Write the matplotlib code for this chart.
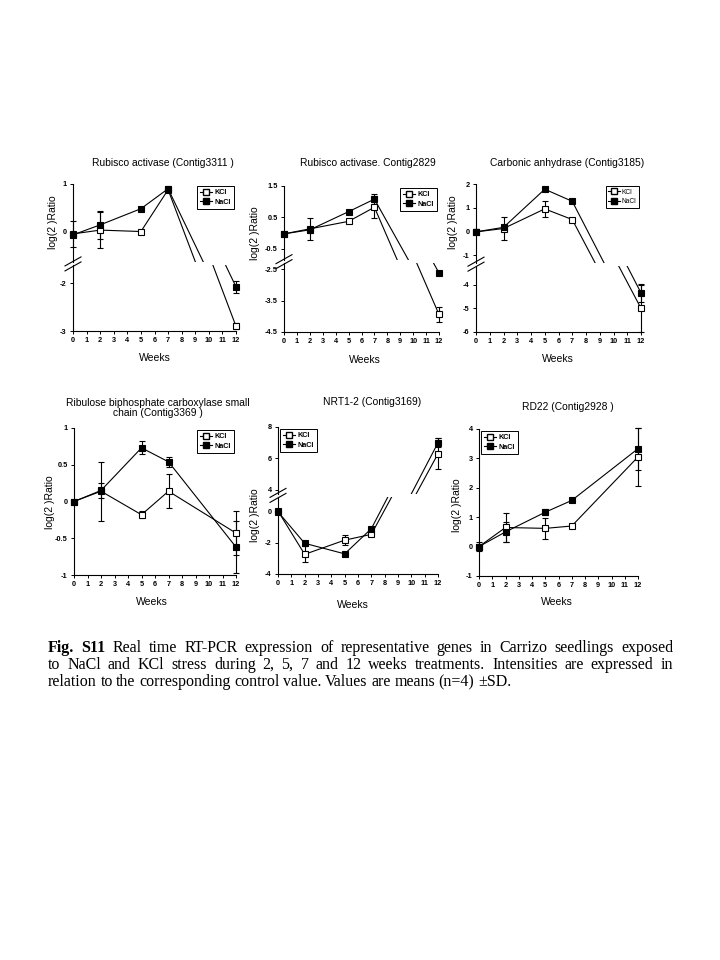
import matplotlib
matplotlib.use('Agg')
import matplotlib.pyplot as plt
from matplotlib.lines import Line2D
from matplotlib.ticker import FuncFormatter

plt.rcParams['font.family'] = ['Liberation Sans', 'DejaVu Sans']

W, H = 720, 960
weeks = [0, 2, 5, 7, 12]
xticks = list(range(13))

# Rubisco activase (Contig3311)
rca1_kcl = [-0.05, 0.03, 0.0, 0.88, -2.9]
rca1_kcl_sd = [0.28, 0.38, 0.02, 0.05, 0.06]
rca1_nacl = [-0.07, 0.14, 0.48, 0.9, -2.07]
rca1_nacl_sd = [0.05, 0.3, 0.02, 0.06, 0.12]

# Rubisco activase, Contig2829
rca2_kcl = [-0.03, 0.13, 0.37, 0.82, -3.94]
rca2_kcl_sd = [0.05, 0.35, 0.03, 0.35, 0.25]
rca2_nacl = [-0.03, 0.1, 0.68, 1.08, -2.61]
rca2_nacl_sd = [0.05, 0.1, 0.03, 0.15, 0.05]

# Carbonic anhydrase (Contig3185)
ca_kcl = [-0.02, 0.12, 0.95, 0.5, -5.0]
ca_kcl_sd = [0.1, 0.48, 0.35, 0.04, 1.0]
ca_nacl = [-0.02, 0.17, 1.78, 1.27, -4.35]
ca_nacl_sd = [0.1, 0.1, 0.04, 0.04, 0.38]

# Ribulose biphosphate carboxylase small chain (Contig3369)
rbcs_kcl = [0.0, 0.14, -0.18, 0.14, -0.43]
rbcs_kcl_sd = [0.01, 0.4, 0.05, 0.23, 0.3]
rbcs_nacl = [0.0, 0.15, 0.73, 0.54, -0.62]
rbcs_nacl_sd = [0.01, 0.1, 0.09, 0.07, 0.35]

# NRT1-2 (Contig3169)
nrt_kcl = [0.0, -2.75, -1.85, -1.48, 6.3]
nrt_kcl_sd = [0.1, 0.5, 0.3, 0.1, 1.0]
nrt_nacl = [-0.05, -2.05, -2.72, -1.12, 7.0]
nrt_nacl_sd = [0.1, 0.1, 0.1, 0.1, 0.3]

# RD22 (Contig2928)
rd22_kcl = [0.0, 0.65, 0.62, 0.7, 3.05]
rd22_kcl_sd = [0.15, 0.5, 0.35, 0.05, 1.0]
rd22_nacl = [0.0, 0.5, 1.17, 1.57, 3.33]
rd22_nacl_sd = [0.05, 0.35, 0.1, 0.05, 0.72]

panels = [
    dict(title='Rubisco activase (Contig3311 )', box=(73, 184, 236, 331),
         upper=(-0.65, 1), lower=(-3, -1.62), uticks=[0, 1], lticks=[-3, -2],
         kcl=rca1_kcl, kcl_sd=rca1_kcl_sd, nacl=rca1_nacl, nacl_sd=rca1_nacl_sd,
         title_xy=(163, 163), ylab_xy=(53, 222), weeks_xy=(155, 358), leg='upper right'),
    dict(title='Rubisco activase. Contig2829', box=(284, 186, 439, 332),
         upper=(-0.87, 1.5), lower=(-4.5, -2.3), uticks=[-0.5, 0.5, 1.5], lticks=[-4.5, -3.5, -2.5],
         kcl=rca2_kcl, kcl_sd=rca2_kcl_sd, nacl=rca2_nacl, nacl_sd=rca2_nacl_sd,
         title_xy=(368, 163), ylab_xy=(255, 233), weeks_xy=(365, 360), leg='upper right'),
    dict(title='Carbonic anhydrase (Contig3185)', box=(476, 184, 641, 332),
         upper=(-1.32, 2), lower=(-6, -3.2), uticks=[-1, 0, 1, 2], lticks=[-6, -5, -4],
         kcl=ca_kcl, kcl_sd=ca_kcl_sd, nacl=ca_nacl, nacl_sd=ca_nacl_sd,
         title_xy=(567, 163), ylab_xy=(453, 222), weeks_xy=(558, 359), leg='upper right'),
    dict(title='Ribulose biphosphate carboxylase small\nchain (Contig3369 )', box=(74, 428, 236, 575),
         ylim=(-1, 1), yticks=[-1, -0.5, 0, 0.5, 1],
         kcl=rbcs_kcl, kcl_sd=rbcs_kcl_sd, nacl=rbcs_nacl, nacl_sd=rbcs_nacl_sd,
         title_xy=(158, 408), ylab_xy=(50, 502), weeks_xy=(152, 602), leg='upper right'),
    dict(title='NRT1-2 (Contig3169)', box=(278, 427, 438, 574),
         upper=(3.75, 8), lower=(-4, 0.9), uticks=[4, 6, 8], lticks=[-4, -2, 0],
         kcl=nrt_kcl, kcl_sd=nrt_kcl_sd, nacl=nrt_nacl, nacl_sd=nrt_nacl_sd,
         title_xy=(372, 402), ylab_xy=(255, 515), weeks_xy=(353, 605), leg='upper left'),
    dict(title='RD22 (Contig2928 )', box=(479, 429, 638, 576),
         ylim=(-1, 4), yticks=[-1, 0, 1, 2, 3, 4],
         kcl=rd22_kcl, kcl_sd=rd22_kcl_sd, nacl=rd22_nacl, nacl_sd=rd22_nacl_sd,
         title_xy=(568, 407), ylab_xy=(457, 505), weeks_xy=(557, 602), leg='upper left'),
]

fig = plt.figure(figsize=(W / 100, H / 100), dpi=100)


def rect(l, t, r, b):
    return [l / W, 1 - b / H, (r - l) / W, (b - t) / H]


def style_axes(ax, show_x):
    for s in ['top', 'right']:
        ax.spines[s].set_visible(False)
    ax.spines['left'].set_linewidth(0.8)
    ax.spines['bottom'].set_linewidth(0.8)
    ax.set_xlim(0, 12)
    ax.yaxis.set_major_formatter(FuncFormatter(lambda v, _: f'{v:g}'))
    ax.tick_params(axis='both', length=2.5, width=0.7, labelsize=5.3, pad=2)
    for lab in ax.get_yticklabels():
        lab.set_fontweight('bold')
    if show_x:
        ax.set_xticks(xticks)
        for lab in ax.get_xticklabels():
            lab.set_fontweight('bold')
    else:
        ax.spines['bottom'].set_visible(False)
        ax.set_xticks([])


def draw_series(ax, y, sd, filled, lo, hi):
    ax.plot(weeks, y, color='black', lw=0.8, zorder=2)
    for xi, yi, ei in zip(weeks, y, sd):
        if lo <= yi <= hi:
            eb = ax.errorbar([xi], [yi], yerr=[ei], fmt='s', ms=4.2,
                             mfc='black' if filled else 'white', mec='black', mew=0.8,
                             ecolor='black', elinewidth=0.8, capsize=2, capthick=0.8, zorder=3)
            for art in eb.get_children():
                art.set_clip_on(False)


def add_legend(ax, loc, small=False):
    handles = [Line2D([], [], color='black', lw=0.8, marker='s', ms=3.8, mfc='white', mec='black'),
               Line2D([], [], color='black', lw=0.8, marker='s', ms=3.8, mfc='black', mec='black')]
    leg = ax.legend(handles, ['KCl', 'NaCl'], loc=loc, fancybox=False, framealpha=1,
                    edgecolor='black', handlelength=1.7, handletextpad=0.3, borderpad=0.4,
                    labelspacing=0.35, borderaxespad=0.3,
                    prop=dict(size=4.8 if small else 5.2, weight='normal' if small else 'bold'))
    leg.get_frame().set_linewidth(0.7)


for i, p in enumerate(panels):
    l, t, r, b = p['box']
    if 'ylim' in p:
        ax = fig.add_axes(rect(l, t, r, b))
        ax.set_ylim(*p['ylim'])
        ax.set_yticks(p['yticks'])
        style_axes(ax, True)
        draw_series(ax, p['kcl'], p['kcl_sd'], False, *p['ylim'])
        draw_series(ax, p['nacl'], p['nacl_sd'], True, *p['ylim'])
        add_legend(ax, p['leg'])
    else:
        gap = 3
        u0, u1 = p['upper']
        l0, l1 = p['lower']
        scale = (b - t - gap) / ((u1 - u0) + (l1 - l0))
        ub = t + (u1 - u0) * scale
        axu = fig.add_axes(rect(l, t, r, ub))
        axl = fig.add_axes(rect(l, ub + gap, r, b))
        axu.set_ylim(u0, u1)
        axl.set_ylim(l0, l1)
        axu.set_yticks(p['uticks'])
        axl.set_yticks(p['lticks'])
        style_axes(axu, False)
        style_axes(axl, True)
        for a, (lo, hi) in [(axu, (u0, u1)), (axl, (l0, l1))]:
            draw_series(a, p['kcl'], p['kcl_sd'], False, lo, hi)
            draw_series(a, p['nacl'], p['nacl_sd'], True, lo, hi)
        add_legend(axu, p['leg'], small=(i == 2))
        # break marks on the y axis
        for yb in (ub - 1, ub + gap + 1):
            fig.add_artist(Line2D([(l - 8) / W, (l + 8) / W],
                                  [1 - (yb + 4.5) / H, 1 - (yb - 4.5) / H],
                                  color='black', lw=0.8))
    tx, ty = p['title_xy']
    fig.text(tx / W, 1 - ty / H, p['title'], ha='center', va='center', fontsize=7.4,
             linespacing=1.1)
    yx, yy = p['ylab_xy']
    fig.text(yx / W, 1 - yy / H, 'log(2 )Ratio', rotation=90, ha='center', va='center',
             fontsize=7.5)
    wx, wy = p['weeks_xy']
    fig.text(wx / W, 1 - wy / H, 'Weeks', ha='center', va='center', fontsize=7.5)

# caption, justified line by line
caption_lines = [
    'Fig. S11 Real time RT-PCR expression of representative genes in Carrizo seedlings exposed',
    'to NaCl and KCl stress during 2, 5, 7 and 12 weeks treatments. Intensities are expressed in',
    'relation to the corresponding control value. Values are means (n=4) \u00b1SD.',
]
cap_y = [648, 665, 682]
cap_left, cap_right = 48, 673
renderer = fig.canvas.get_renderer()
for li, line in enumerate(caption_lines):
    words = line.split(' ')
    texts = []
    for wi, w in enumerate(words):
        bold = (li == 0 and wi < 2)
        texts.append(fig.text(0, 1 - cap_y[li] / H, w, ha='left', va='center', fontsize=11.5,
                              family=['Liberation Serif', 'DejaVu Serif'],
                              fontweight='bold' if bold else 'normal'))
    widths = [tt.get_window_extent(renderer).width for tt in texts]
    if li < len(caption_lines) - 1:
        space = (cap_right - cap_left - sum(widths)) / (len(words) - 1)
    else:
        space = 3.6
    x = cap_left
    for tt, wd in zip(texts, widths):
        tt.set_x(x / W)
        x += wd + space

fig.savefig('out.png', dpi=100)
